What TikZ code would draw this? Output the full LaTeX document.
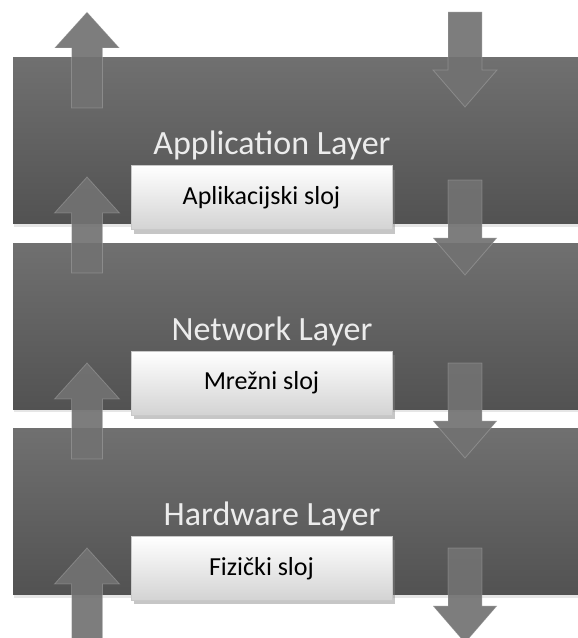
\documentclass[tikz,border=0pt]{standalone}
\usepackage{fontspec}
\setmainfont{Carlito}
\usetikzlibrary{positioning,shadows}
\definecolor{bandtop}{RGB}{112,112,112}
\definecolor{bandbot}{RGB}{82,82,82}
\definecolor{arrowgray}{RGB}{114,114,114}
\definecolor{labelgray}{RGB}{236,236,236}
\definecolor{boxgray}{RGB}{200,200,200}
\tikzstyle{band} = [rectangle, top color=bandtop, bottom color=bandbot, draw=none, minimum width=570pt, minimum height=166pt, inner sep=0pt, drop shadow={opacity=0.2, shadow xshift=1pt, shadow yshift=-3pt}]
\tikzstyle{layer} = [text=labelgray, font=\fontsize{34}{40}\selectfont, text height=24pt, text depth=8pt, inner sep=0pt]
\tikzstyle{sloj} = [rectangle, draw=boxgray, line width=1pt, top color=white, bottom color=boxgray!80, text=black, minimum width=261pt, minimum height=64pt, inner sep=0pt, font=\fontsize{26}{30}\selectfont, drop shadow={opacity=0.45, shadow xshift=3pt, shadow yshift=-4pt}]
\tikzstyle{blockarrow} = [fill=arrowgray, fill opacity=0.92, draw=white, draw opacity=0.2, line width=0.8pt]

\begin{document}
\begin{tikzpicture}[x=1pt, y=1pt]
\clip (0,0) rectangle (578,638);

% layers =============================
\node[band] (band1) at (298,497) {};
\node[band, below=19pt of band1] (band2) {};
\node[band, below=19pt of band2] (band3) {};

% up and down arrows
\foreach \t in {626,461,275,90}
  \path[blockarrow] (87,\t) -- (119.5,\t-36) -- (102.5,\t-36) -- (102.5,\t-96) -- (71.5,\t-96) -- (71.5,\t-36) -- (54.5,\t-36) -- cycle;
\foreach \s in {626,458,275,90}
  \path[blockarrow] (448,\s) -- (482,\s) -- (482,\s-58) -- (497,\s-58) -- (465,\s-95) -- (433,\s-58) -- (448,\s-58) -- cycle;

% labels
\node[layer, below=73pt of band1.north, xshift=-26pt] (applayer) {Application Layer};
\node[layer, below=73pt of band2.north, xshift=-26pt] (netlayer) {Network Layer};
\node[layer, below=73pt of band3.north, xshift=-26pt] (hwlayer) {Hardware Layer};

% boxes
\node[sloj, below=2pt of applayer, xshift=-10.5pt] (aplsloj) {Aplikacijski sloj};
\node[sloj, below=2pt of netlayer, xshift=-10.5pt] (mrezsloj) {Mrežni sloj};
\node[sloj, below=2pt of hwlayer, xshift=-10.5pt] (fizsloj) {Fizički sloj};

\end{tikzpicture}
\end{document}
